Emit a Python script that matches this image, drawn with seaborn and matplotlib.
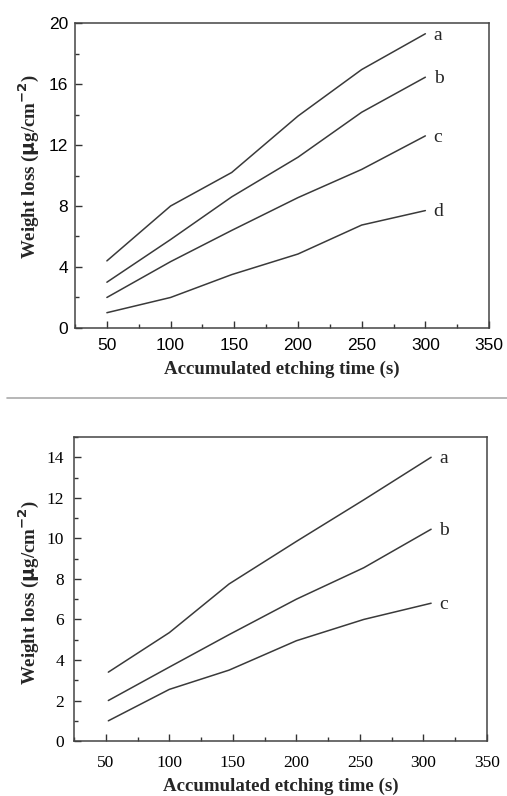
import numpy as np
import pandas as pd
import matplotlib
matplotlib.use("Agg")
import matplotlib.pyplot as plt
import seaborn as sns
from matplotlib.lines import Line2D
from matplotlib.ticker import MultipleLocator

# --- data ---
time_top = [50, 100, 148, 200, 250, 300]
top_a = [4.4, 8.0, 10.2, 13.9, 16.95, 19.3]
top_b = [3.0, 5.8, 8.6, 11.2, 14.15, 16.45]
top_c = [2.0, 4.35, 6.4, 8.55, 10.4, 12.6]
top_d = [1.0, 2.0, 3.5, 4.85, 6.75, 7.7]

time_bot = [52, 100, 147, 200, 253, 306]
bot_a = [3.4, 5.35, 7.75, 9.85, 11.9, 14.0]
bot_b = [2.0, 3.65, 5.25, 7.0, 8.55, 10.45]
bot_c = [1.0, 2.55, 3.5, 4.95, 6.0, 6.8]

sns.set_style("ticks")
plt.rcParams["font.family"] = ["Liberation Serif", "DejaVu Serif"]

XLABEL = "Accumulated etching time (s)"
YLABEL = r"Weight loss ($\mathbf{\mu}$g/cm$^{\mathbf{-2}}$)"
LINE_COLOR = "#3a3a3a"


def long_table(times, series):
    rows = []
    for name, vals in series.items():
        for t, v in zip(times, vals):
            rows.append({"time": t, "loss": v, "curve": name})
    return pd.DataFrame(rows)


def draw_panel(ax, times, series, ymax, ymajor, tick_family, xpad, ypad,
               xlabelpad, ylabel_xy):
    df = long_table(times, series)
    sns.lineplot(data=df, x="time", y="loss", units="curve", estimator=None,
                 color=LINE_COLOR, linewidth=1.1, ax=ax, legend=False)
    for name, vals in series.items():
        ax.annotate(name, (times[-1], vals[-1]), xytext=(6, -1),
                    textcoords="offset points", va="center", ha="left",
                    fontsize=14, fontfamily="Liberation Serif")
    ax.set_xlim(25, 350)
    ax.set_ylim(0, ymax)
    ax.xaxis.set_major_locator(MultipleLocator(50))
    ax.xaxis.set_minor_locator(MultipleLocator(25))
    ax.yaxis.set_major_locator(MultipleLocator(ymajor))
    ax.yaxis.set_minor_locator(MultipleLocator(ymajor / 2))
    ax.tick_params(which="both", direction="in", top=False, right=False,
                   width=1, colors="#333333")
    ax.tick_params(which="major", length=5, labelsize=12.5, labelcolor="black")
    ax.tick_params(which="minor", length=3)
    ax.tick_params(axis="x", which="major", pad=xpad)
    ax.tick_params(axis="y", which="major", pad=ypad)
    for lab in ax.get_xticklabels() + ax.get_yticklabels():
        lab.set_fontfamily(tick_family)
    for sp in ax.spines.values():
        sp.set_visible(True)
        sp.set_color("#444444")
        sp.set_linewidth(1.1)
    ax.set_xlabel(XLABEL, fontsize=13.6, fontweight="bold", labelpad=xlabelpad)
    ax.set_ylabel(YLABEL, fontsize=13.6, fontweight="bold")
    ax.yaxis.set_label_coords(*ylabel_xy)


fig = plt.figure(figsize=(5.07, 7.96), dpi=100)
ax1 = fig.add_axes([0.148, 0.588, 0.8166, 0.383])
ax2 = fig.add_axes([0.146, 0.069, 0.8146, 0.382])

draw_panel(ax1, time_top, {"a": top_a, "b": top_b, "c": top_c, "d": top_d},
           20, 4, "Liberation Sans", xpad=7, ypad=5, xlabelpad=6,
           ylabel_xy=(-0.082, 0.53))
draw_panel(ax2, time_bot, {"a": bot_a, "b": bot_b, "c": bot_c},
           15, 2, "Liberation Serif", xpad=10, ypad=7, xlabelpad=5,
           ylabel_xy=(-0.08, 0.49))

# grey separator between the two figures
fig.add_artist(Line2D([0.014, 1.0], [1 - 398 / 796, 1 - 398 / 796],
                      transform=fig.transFigure, color="#aaaaaa", linewidth=1.2))

fig.savefig("out.png", dpi=100)
